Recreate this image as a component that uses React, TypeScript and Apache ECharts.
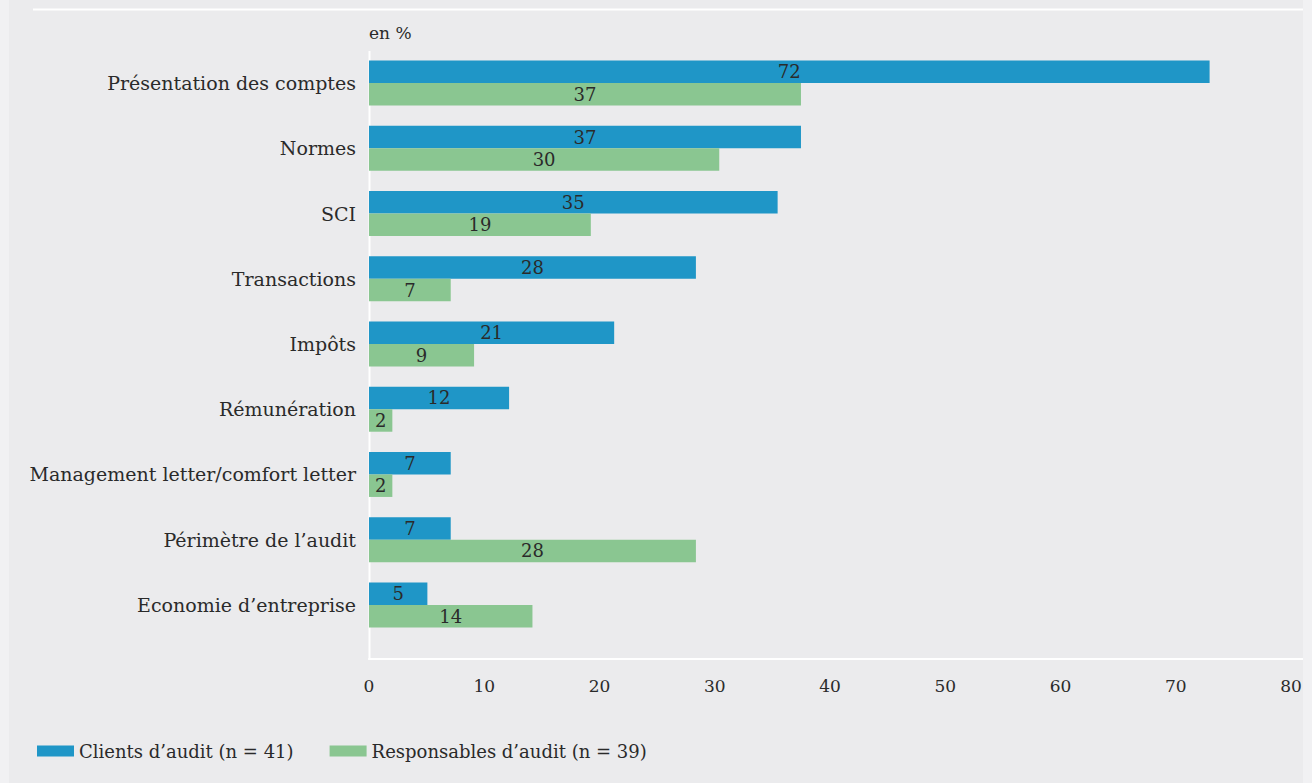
import React, { useEffect, useRef } from "react";
import * as echarts from "echarts";

const categories = [
  "Présentation des comptes",
  "Normes",
  "SCI",
  "Transactions",
  "Impôts",
  "Rémunération",
  "Management letter/comfort letter",
  "Périmètre de l’audit",
  "Economie d’entreprise",
];
const clients = [72, 37, 35, 28, 21, 12, 7, 7, 5];
const responsables = [37, 30, 19, 7, 9, 2, 2, 28, 14];
const seriesNames = ["Clients d’audit (n = 41)", "Responsables d’audit (n = 39)"];
const unitLabel = "en %";

const FONT = "DejaVu Serif";
const TXT = "#2a2a2a";

export default function App() {
  const ref = useRef<HTMLDivElement>(null);
  useEffect(() => {
    document.body.style.margin = "0";
    document.body.style.background = "#f1f1f3";
    const chart = echarts.init(ref.current!, null, { renderer: "svg" });
    const labelStyle = {
      show: true,
      position: "inside" as const,
      color: TXT,
      fontFamily: FONT,
      fontSize: 18,
    };
    chart.setOption({
      animation: false,
      backgroundColor: "#ebebed",
      textStyle: { fontFamily: FONT, color: TXT },
      grid: [
        { left: 360, right: 0, top: 50.5, height: 587, containLabel: false, outerBoundsMode: "none" },
        { left: 360, right: 12, top: 50.5, height: 587, containLabel: false, outerBoundsMode: "none" },
      ],
      legend: {
        left: 23,
        top: 737,
        itemWidth: 37,
        itemHeight: 11,
        itemGap: 36,
        icon: "rect",
        textStyle: { fontFamily: FONT, fontSize: 18, color: TXT },
        data: seriesNames,
      },
      graphic: [
        {
          type: "line",
          shape: { x1: 24, y1: 9.5, x2: 1294, y2: 9.5 },
          style: { stroke: "#ffffff", lineWidth: 2 },
        },
        {
          type: "line",
          shape: { x1: 360.5, y1: 51, x2: 360.5, y2: 660 },
          style: { stroke: "#ffffff", lineWidth: 2 },
        },
        {
          type: "text",
          left: 360,
          top: 24,
          style: { text: unitLabel, fontFamily: FONT, fontSize: 17, fill: TXT },
        },
      ],
      xAxis: [
        {
          type: "value",
          gridIndex: 0,
          min: 0,
          max: 80,
          interval: 10,
          offset: 21.5,
          axisLine: { show: true, lineStyle: { color: "#ffffff", width: 2 } },
          axisTick: { show: false },
          splitLine: { show: false },
          axisLabel: { show: false },
        },
        {
          type: "value",
          gridIndex: 1,
          min: 0,
          max: 80,
          interval: 10,
          offset: 21.5,
          axisLine: { show: false },
          axisTick: { show: false },
          splitLine: { show: false },
          axisLabel: { color: TXT, fontFamily: FONT, fontSize: 17, margin: 18 },
        },
      ],
      yAxis: [
        {
          type: "category",
          gridIndex: 0,
          inverse: true,
          data: categories,
          axisLine: { show: false },
          axisTick: { show: false },
          axisLabel: { color: TXT, fontFamily: FONT, fontSize: 19, margin: 13 },
        },
        {
          type: "category",
          gridIndex: 1,
          inverse: true,
          data: categories,
          show: false,
        },
      ],
      series: [
        {
          name: seriesNames[0],
          type: "bar",
          data: clients,
          barWidth: 22.5,
          barGap: "0%",
          itemStyle: { color: "#1f96c7" },
          label: labelStyle,
        },
        {
          name: seriesNames[1],
          type: "bar",
          data: responsables,
          barWidth: 22.5,
          barGap: "0%",
          itemStyle: { color: "#8ac691" },
          label: labelStyle,
        },
      ],
    });
    return () => chart.dispose();
  }, []);
  return (
    <div
      ref={ref}
      style={{ position: "absolute", left: 9, top: 0, width: 1294, height: 783 }}
    />
  );
}
